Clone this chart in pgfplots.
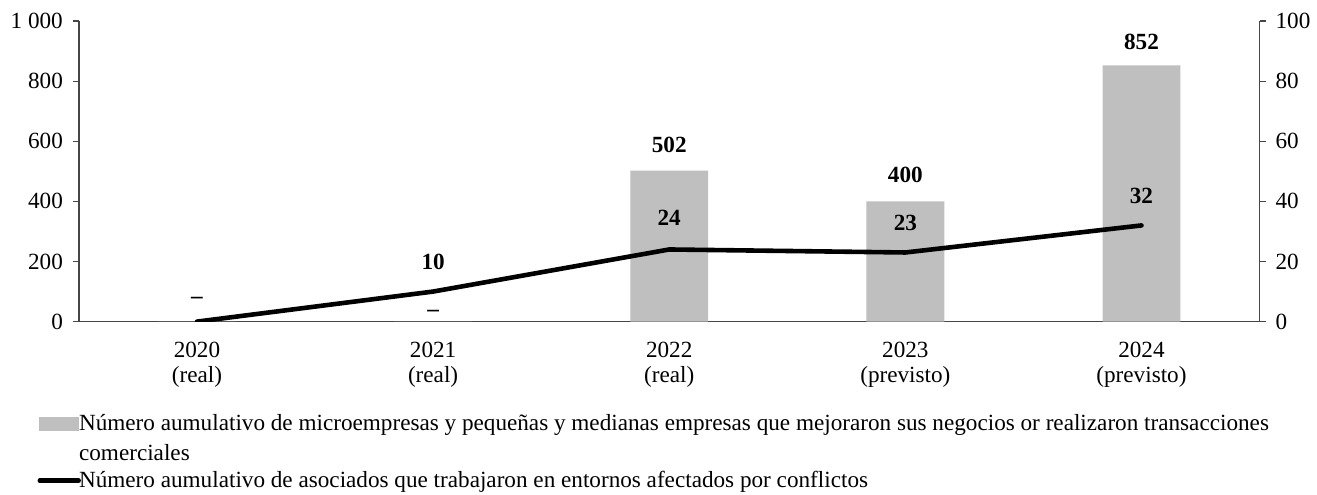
\documentclass[border=0pt]{standalone}
\usepackage{pgfplots}
\pgfplotsset{compat=1.18}
\usepackage{pgfplotstable}
\usepackage{fontspec}
\setmainfont{Liberation Serif}
\definecolor{bargray}{RGB}{191,191,191}
\definecolor{axgray}{RGB}{70,70,70}

\pgfplotstableread{
x y lab off
0 0 {} 0
1 0 {--} 4
2 502 502 13
3 400 400 13
4 852 852 12
}\bardata

\pgfplotstableread{
x y lab off
0 0 {--} 10.5
1 10 10 15
2 24 24 16
3 23 23 15
4 32 32 15
}\linedata

\begin{document}
\begin{tikzpicture}[font=\fontsize{11.6}{13.5}\selectfont]
\pgfplotsset{
  common/.style={
    scale only axis, width=591pt, height=150.5pt,
    xmin=-0.5, xmax=4.5,
    axis line style={axgray, line width=0.6pt},
    tick style={axgray, line width=0.6pt},
    tick align=outside, major tick length=3pt,
    /pgf/number format/assume math mode=true,
    ticklabel style={font=\fontsize{11.6}{13.5}\selectfont},
  }
}
\begin{axis}[common, name=ax1,
  axis y line*=left, axis x line*=bottom,
  ymin=0, ymax=1000,
  ytick={0,200,400,600,800,1000},
  yticklabels={0,200,400,600,800,1\ 000},
  yticklabel style={xshift=-1.5pt},
  xtick={0,1,2,3,4},
  xticklabels={{2020\\(real)},{2021\\(real)},{2022\\(real)},{2023\\(previsto)},{2024\\(previsto)}},
  xticklabel style={align=center, font=\fontsize{11.6}{12.5}\selectfont, yshift=-3.5pt},
  major x tick style={draw=none},
]
\addplot[ybar, fill=bargray, draw=none, bar width=39pt,
  nodes near coords, point meta=explicit symbolic,
  visualization depends on={\thisrow{off} \as \myoff},
  every node near coord/.append style={anchor=center, yshift=\myoff pt, font=\fontsize{11.6}{13.5}\selectfont\bfseries}]
  table[x=x, y=y, meta=lab]{\bardata};
\end{axis}
\begin{axis}[common,
  at={(ax1.south west)}, anchor=south west,
  axis y line*=right, axis x line=none,
  ymin=0, ymax=100,
  ytick={0,20,40,60,80,100},
  yticklabel style={xshift=1.5pt},
  legend style={at={(0,0)}, anchor=north west, xshift=-20pt, yshift=-44pt,
    draw=none, fill=none, inner sep=0pt,
    font=\fontsize{11.6}{15}\selectfont,
    cells={anchor=west, align=left},
    row sep=0pt},
  legend cell align=left,
]
\addlegendimage{legend image code/.code={\path[use as bounding box] (0pt,4.25pt) rectangle (17.5pt,10.75pt);\fill[bargray] (0pt,4.25pt) rectangle (19.5pt,10.75pt);}}
\addlegendentry{Número aumulativo de microempresas y pequeñas y medianas empresas que mejoraron sus negocios or realizaron transacciones\\comerciales}
\addlegendimage{legend image code/.code={\path[use as bounding box] (0pt,-1.1pt) rectangle (17.5pt,1.1pt);\draw[black, line width=2.2pt, line cap=round] (0pt,0pt) -- (19.5pt,0pt);}}
\addlegendentry{Número aumulativo de asociados que trabajaron en entornos afectados por conflictos}
\addplot[black, line width=2.3pt, line cap=round, line join=round, forget plot,
  nodes near coords, point meta=explicit symbolic,
  visualization depends on={\thisrow{off} \as \myoff},
  every node near coord/.append style={anchor=center, yshift=\myoff pt, font=\fontsize{11.6}{13.5}\selectfont\bfseries}]
  table[x=x, y=y, meta=lab]{\linedata};
\end{axis}
\path (ax1.south west) ++(-39.5pt,-81pt) rectangle ++(658.5pt,242pt);
\end{tikzpicture}
\end{document}
